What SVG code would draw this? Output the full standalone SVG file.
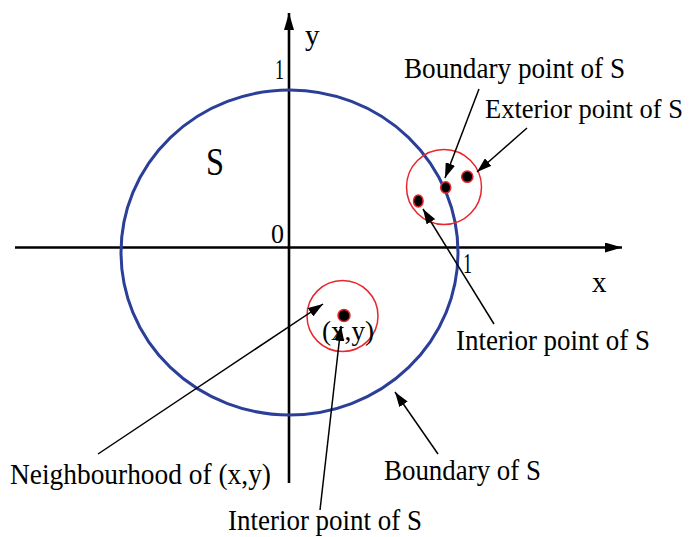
<svg xmlns="http://www.w3.org/2000/svg" width="691" height="537" viewBox="0 0 691 537">
<style>
text{font-family:"Liberation Serif","Times New Roman",serif;fill:#000}
.lbl{font-size:29px}
.ax{stroke:#000;stroke-width:2.6;fill:none}
.con{stroke:#000;stroke-width:1.5;fill:none}
.nb{stroke:#e8262c;stroke-width:1.5;fill:none}
.pt{fill:#000;stroke:#e8262c;stroke-width:1.5}
</style>
<defs>
<marker id="ah" markerUnits="userSpaceOnUse" markerWidth="16" markerHeight="10" refX="15" refY="5" orient="auto">
<path d="M0,0 L15,5 L0,10 z" fill="#000"/>
</marker>
<marker id="axh" markerUnits="userSpaceOnUse" markerWidth="18" markerHeight="10" refX="17" refY="5" orient="auto">
<path d="M0,0 L17,5 L0,10 z" fill="#000"/>
</marker>
</defs>
<rect width="691" height="537" fill="#fff"/>
<g id="axes">
<line class="ax" x1="15" y1="247.5" x2="622" y2="247.5" marker-end="url(#axh)"/>
<line class="ax" x1="289" y1="483" x2="289" y2="13" marker-end="url(#axh)"/>
<text x="305" y="45" font-size="29">y</text>
<text x="592" y="292" font-size="29">x</text>
<text x="275" y="79" font-size="29" textLength="9" lengthAdjust="spacingAndGlyphs">1</text>
<text x="271" y="243" font-size="28" textLength="13" lengthAdjust="spacingAndGlyphs">0</text>
<text x="463" y="273" font-size="29" textLength="9" lengthAdjust="spacingAndGlyphs">1</text>
</g>
<g id="setS">
<ellipse cx="289.5" cy="252.5" rx="168.5" ry="162.5" fill="none" stroke="#2b3f98" stroke-width="3"/>
<text x="206" y="175" font-size="40" textLength="18" lengthAdjust="spacingAndGlyphs">S</text>
</g>
<g id="neighbourhood-top">
<circle class="nb" cx="444" cy="187" r="37.5"/>
</g>
<g id="point-boundary">
<ellipse class="pt" cx="445.7" cy="187.5" rx="5" ry="5.8"/>
</g>
<g id="point-exterior">
<ellipse class="pt" cx="467.3" cy="176.7" rx="5.6" ry="5.6"/>
</g>
<g id="point-interior-top">
<ellipse class="pt" cx="418.3" cy="201" rx="4.8" ry="6"/>
</g>
<g id="neighbourhood-xy">
<circle class="nb" cx="342.5" cy="316" r="35.5"/>
<ellipse class="pt" cx="344" cy="315.5" rx="6" ry="6"/>
<text x="322" y="340" font-size="28" textLength="52" lengthAdjust="spacingAndGlyphs">(x,y)</text>
</g>
<g id="label-boundary-point">
<text class="lbl" x="404" y="78" textLength="221" lengthAdjust="spacingAndGlyphs">Boundary point of S</text>
</g>
<g id="label-exterior-point">
<text x="485" y="118" font-size="26.5">Exterior point of S</text>
</g>
<g id="label-interior-point-right">
<text class="lbl" x="456" y="350" textLength="194" lengthAdjust="spacingAndGlyphs">Interior point of S</text>
</g>
<g id="label-neighbourhood">
<text class="lbl" x="10" y="484" textLength="261" lengthAdjust="spacingAndGlyphs">Neighbourhood of (x,y)</text>
</g>
<g id="label-boundary">
<text class="lbl" x="384" y="480" textLength="157" lengthAdjust="spacingAndGlyphs">Boundary of S</text>
</g>
<g id="label-interior-point-bottom">
<text class="lbl" x="228" y="530" textLength="194" lengthAdjust="spacingAndGlyphs">Interior point of S</text>
</g>
<g id="connectors">
<line class="con" x1="479" y1="89" x2="445" y2="178" marker-end="url(#ah)"/>
<line class="con" x1="527" y1="128" x2="477" y2="172" marker-end="url(#ah)"/>
<line class="con" x1="494" y1="324" x2="423" y2="209" marker-end="url(#ah)"/>
<line class="con" x1="98" y1="454" x2="323" y2="304" marker-end="url(#ah)"/>
<line class="con" x1="320" y1="510" x2="341" y2="326" marker-end="url(#ah)"/>
<line class="con" x1="438" y1="454" x2="395" y2="392" marker-end="url(#ah)"/>
</g>
</svg>
